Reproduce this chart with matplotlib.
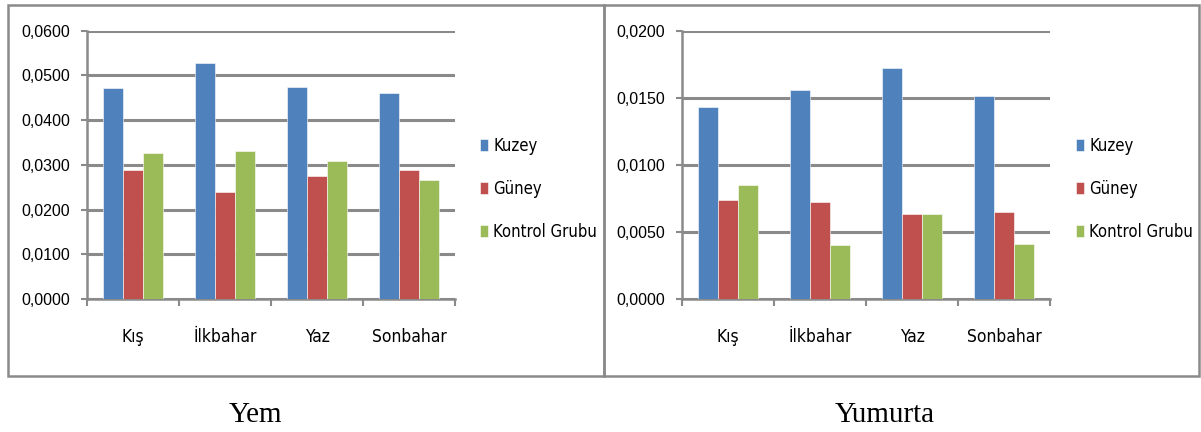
import numpy as np
import matplotlib.pyplot as plt
from matplotlib.patches import Rectangle
from matplotlib.ticker import FixedLocator
from matplotlib import font_manager as fm

# mevsimler ve gruplar
mevsim = ['Kış', 'İlkbahar', 'Yaz', 'Sonbahar']
grup = ['Kuzey', 'Güney', 'Kontrol Grubu']
renk = ['#4F81BD', '#C0504D', '#9BBB59']

# yem
yem_kuzey = [0.0471, 0.0527, 0.0474, 0.0460]
yem_guney = [0.0288, 0.0240, 0.0274, 0.0288]
yem_kontrol = [0.0326, 0.0330, 0.0309, 0.0267]

# yumurta
yum_kuzey = [0.0143, 0.0156, 0.0172, 0.0151]
yum_guney = [0.0074, 0.0072, 0.0063, 0.0065]
yum_kontrol = [0.0085, 0.0040, 0.0063, 0.0041]

W, H = 1201, 432
fig = plt.figure(figsize=(W / 100, H / 100), dpi=100)
gri = '#8a8a8a'

# dar yazı tipi: varsa Liberation Sans Narrow, yoksa DejaVu Sans Condensed
adlar = {f.name for f in fm.fontManager.ttflist}
if 'Liberation Sans Narrow' in adlar:
    dar = fm.FontProperties(family='Liberation Sans Narrow', size=13)
    dar_leg = fm.FontProperties(family='Liberation Sans Narrow', size=12.5)
else:
    dar = fm.FontProperties(family='DejaVu Sans', stretch='condensed', size=12.5)
    dar_leg = fm.FontProperties(family='DejaVu Sans', stretch='condensed', size=12)


def ciz(ax, seriler, ymax, adim, leg_x):
    x = np.arange(len(mevsim))
    w = 0.22
    for i, (s, r, g) in enumerate(zip(seriler, renk, grup)):
        ax.bar(x + (i - 1) * w, s, width=w, color=r, label=g,
               edgecolor='white', linewidth=0.4, zorder=3)
    ax.set_xlim(-0.5, len(mevsim) - 0.5)
    ax.set_ylim(0, ymax)
    yt = np.arange(0, ymax + adim / 2, adim)
    ax.set_yticks(yt)
    ax.set_yticklabels([f'{v:.4f}'.replace('.', ',') for v in yt],
                       family='Liberation Sans', fontsize=11.5)
    ax.set_xticks(x)
    ax.set_xticklabels(mevsim, fontproperties=dar)
    ax.xaxis.set_minor_locator(FixedLocator(np.arange(-0.5, len(mevsim), 1)))
    ax.tick_params(axis='x', which='major', length=0, pad=21)
    ax.tick_params(axis='x', which='minor', length=5, width=1.5, color=gri)
    ax.tick_params(axis='y', length=4, width=1.5, color=gri, pad=8)
    ax.grid(axis='y', color=gri, linewidth=2.2, zorder=0)
    ax.set_axisbelow(True)
    for k in ['top', 'right']:
        ax.spines[k].set_visible(False)
    for k in ['left', 'bottom']:
        ax.spines[k].set_color(gri)
        ax.spines[k].set_linewidth(1.8)
    ax.legend(loc='center left', bbox_to_anchor=(leg_x / W, 1 - 189 / H),
              bbox_transform=fig.transFigure, frameon=False,
              prop=dar_leg, handlelength=0.5,
              handleheight=0.75, handletextpad=0.3, labelspacing=1.5,
              borderpad=0, borderaxespad=0)


ax1 = fig.add_axes([87 / W, 1 - 299 / H, 368 / W, 268.3 / H])
ciz(ax1, [yem_kuzey, yem_guney, yem_kontrol], 0.06, 0.01, 480)

ax2 = fig.add_axes([682 / W, 1 - 299 / H, 368 / W, 268.3 / H])
ciz(ax2, [yum_kuzey, yum_guney, yum_kontrol], 0.02, 0.005, 1076)

# çerçeveler
for x0, x1 in [(8, 604), (604, 1199)]:
    fig.patches.append(Rectangle((x0 / W, 1 - 375.5 / H), (x1 - x0) / W,
                                 371 / H, transform=fig.transFigure,
                                 fill=False, edgecolor=gri, linewidth=1.8))

fig.text(255 / W, 1 - 415 / H, 'Yem', ha='center', va='center',
         family='Liberation Serif', fontsize=21)
fig.text(885 / W, 1 - 415 / H, 'Yumurta', ha='center', va='center',
         family='Liberation Serif', fontsize=21)

fig.savefig('out.png', dpi=100)
